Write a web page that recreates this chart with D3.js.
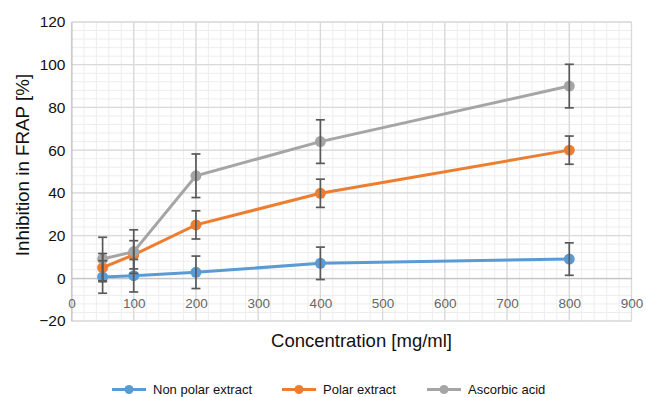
<!DOCTYPE html>
<html>
<head>
<meta charset="utf-8">
<script src="https://cdn.jsdelivr.net/npm/d3@7"></script>
<style>
  html, body { margin: 0; padding: 0; background: #fff; }
  svg { display: block; font-family: "Liberation Sans", Arial, sans-serif; }
</style>
</head>
<body>
<svg id="chart" width="646" height="397"></svg>
<script>
// Concentrations tested (mg/ml)
const concentrations = [50, 100, 200, 400, 800];

// Inhibition in FRAP (%) for each extract, with error bar half-widths
const nonPolar = [0.6, 1.2, 2.8, 7.0, 9.0];
const nonPolarErr = [7.6, 7.6, 7.6, 7.6, 7.6];
const polar = [5.0, 11.0, 25.0, 39.8, 60.0];
const polarErr = [6.6, 6.6, 6.6, 6.6, 6.6];
const ascorbic = [9.0, 12.5, 48.0, 64.0, 90.0];
const ascorbicErr = [10.2, 10.2, 10.2, 10.2, 10.2];

const seriesNames = ["Non polar extract", "Polar extract", "Ascorbic acid"];
const seriesColors = ["#5b9bd5", "#ed7d31", "#a5a5a5"];

const xTicks = [0, 100, 200, 300, 400, 500, 600, 700, 800, 900];
const yTicks = [-20, 0, 20, 40, 60, 80, 100, 120];

const series = [
  { name: seriesNames[0], color: seriesColors[0], values: nonPolar, err: nonPolarErr },
  { name: seriesNames[1], color: seriesColors[1], values: polar, err: polarErr },
  { name: seriesNames[2], color: seriesColors[2], values: ascorbic, err: ascorbicErr }
];

const svg = d3.select("#chart");
const x = d3.scaleLinear().domain([0, 900]).range([71.5, 631.5]);
const y = d3.scaleLinear().domain([-20, 120]).range([321, 22]);

// Minor grid
const grid = svg.append("g");
grid.selectAll(".minx").data(d3.range(0, 901, 20)).join("line")
  .attr("x1", d => x(d)).attr("x2", d => x(d))
  .attr("y1", y(-20)).attr("y2", y(120))
  .attr("stroke", "#ededed").attr("stroke-width", 1);
grid.selectAll(".miny").data(d3.range(-20, 121, 4)).join("line")
  .attr("x1", x(0)).attr("x2", x(900))
  .attr("y1", d => y(d)).attr("y2", d => y(d))
  .attr("stroke", "#ededed").attr("stroke-width", 1);
// Major grid
grid.selectAll(".majx").data(xTicks).join("line")
  .attr("x1", d => x(d)).attr("x2", d => x(d))
  .attr("y1", y(-20)).attr("y2", y(120))
  .attr("stroke", "#d9d9d9").attr("stroke-width", 1.3);
grid.selectAll(".majy").data(yTicks).join("line")
  .attr("x1", x(0)).attr("x2", x(900))
  .attr("y1", d => y(d)).attr("y2", d => y(d))
  .attr("stroke", "#d9d9d9").attr("stroke-width", 1.3);

// Axes
const yAxis = d3.axisLeft(y).tickValues(yTicks).tickSize(0).tickPadding(6)
  .tickFormat(d => d < 0 ? "\u2212" + Math.abs(d) : d);
const gy = svg.append("g").attr("transform", `translate(${x(0)},0)`).call(yAxis);
gy.select(".domain").attr("stroke", "#bfbfbf");
gy.selectAll("text").attr("font-size", 15.5).attr("fill", "#111");

const xAxis = d3.axisBottom(x).tickValues(xTicks).tickSize(0).tickPadding(20);
const gx = svg.append("g").attr("transform", `translate(0,${y(0)})`).call(xAxis);
gx.select(".domain").attr("stroke", "#bfbfbf");
gx.selectAll("text").attr("font-size", 13.5).attr("fill", "#666");

// Axis titles
svg.append("text")
  .attr("transform", `translate(29,165) rotate(-90)`)
  .attr("text-anchor", "middle").attr("font-size", 18.8).attr("fill", "#111")
  .text("Inhibition in FRAP [%]");
svg.append("text")
  .attr("x", 361.5).attr("y", 346.5)
  .attr("text-anchor", "middle").attr("font-size", 18.5).attr("fill", "#111")
  .text("Concentration [mg/ml]");

// Series lines
const line = d3.line().x((d, i) => x(concentrations[i])).y(d => y(d));
series.forEach(s => {
  svg.append("path").datum(s.values)
    .attr("d", line).attr("fill", "none")
    .attr("stroke", s.color).attr("stroke-width", 3);
});

// Markers and error bars
series.forEach(s => {
  const g = svg.append("g");
  g.selectAll("circle").data(s.values).join("circle")
    .attr("cx", (d, i) => x(concentrations[i])).attr("cy", d => y(d))
    .attr("r", 5.5).attr("fill", s.color);
});
series.forEach(s => {
  const g = svg.append("g").attr("stroke", "#595959").attr("stroke-width", 1.7);
  s.values.forEach((v, i) => {
    const cx = x(concentrations[i]);
    const top = y(v + s.err[i]), bot = y(v - s.err[i]);
    g.append("line").attr("x1", cx).attr("x2", cx).attr("y1", top).attr("y2", bot);
    g.append("line").attr("x1", cx - 4.5).attr("x2", cx + 4.5).attr("y1", top).attr("y2", top);
    g.append("line").attr("x1", cx - 4.5).attr("x2", cx + 4.5).attr("y1", bot).attr("y2", bot);
  });
});

// Legend
const legendX = [112, 282, 427];
const legend = svg.append("g");
series.forEach((s, i) => {
  const lg = legend.append("g").attr("transform", `translate(${legendX[i]},389.5)`);
  lg.append("line").attr("x1", 0).attr("x2", 34).attr("y1", 0).attr("y2", 0)
    .attr("stroke", s.color).attr("stroke-width", 3);
  lg.append("circle").attr("cx", 17).attr("cy", 0).attr("r", 4.5).attr("fill", s.color);
  lg.append("text").attr("x", 41).attr("y", 4.5).attr("font-size", 13).attr("fill", "#111")
    .text(s.name);
});
</script>
</body>
</html>
